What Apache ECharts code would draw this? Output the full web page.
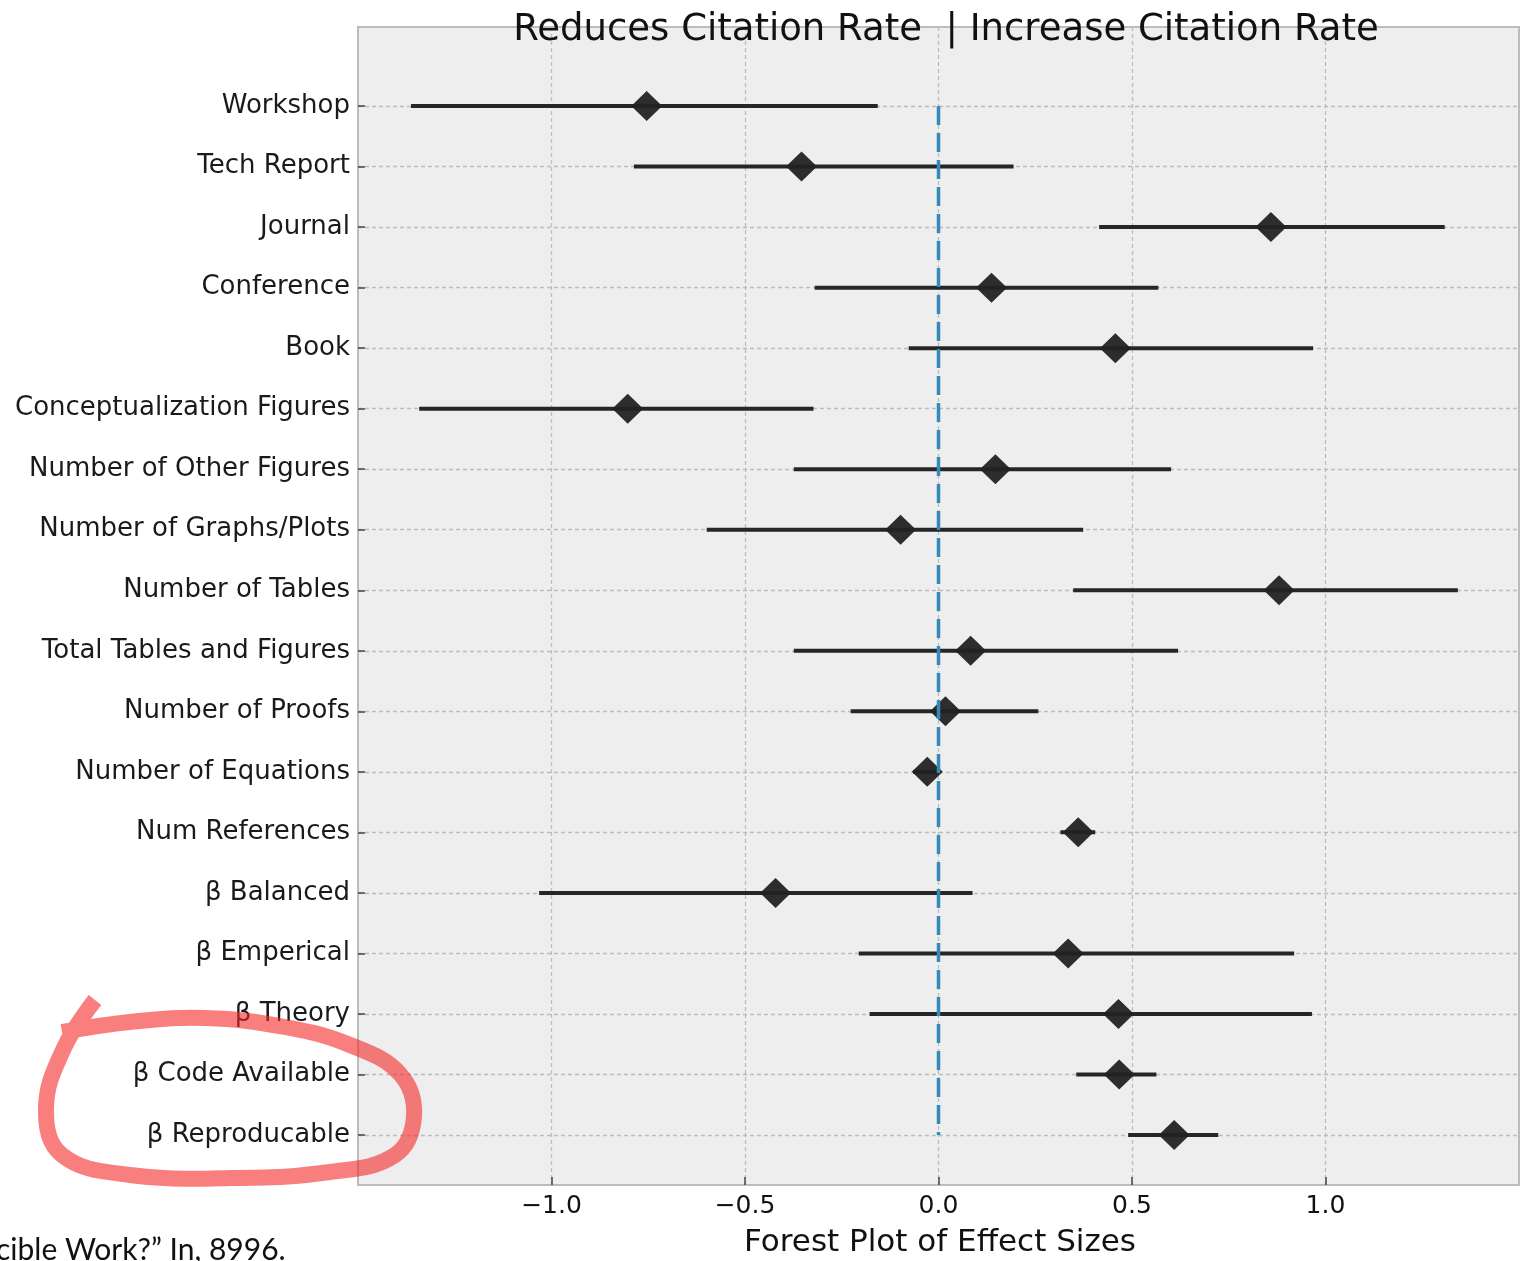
<!DOCTYPE html>
<html>
<head>
<meta charset="utf-8">
<script src="https://cdn.jsdelivr.net/npm/echarts@6/dist/echarts.min.js"></script>
<style>
  html, body { margin: 0; background: #fff; }
  #chart { width: 1531px; height: 1261px; }
</style>
</head>
<body>
<div id="chart"></div>
<script>
// factors, top to bottom
const categories = [
  'Workshop', 'Tech Report', 'Journal', 'Conference', 'Book',
  'Conceptualization Figures', 'Number of Other Figures', 'Number of Graphs/Plots',
  'Number of Tables', 'Total Tables and Figures', 'Number of Proofs',
  'Number of Equations', 'Num References', 'β Balanced', 'β Emperical',
  'β Theory', 'β Code Available', 'β Reproducable'
]
const estimates = [-0.754, -0.354, 0.859, 0.137, 0.457, -0.803, 0.147, -0.098, 0.880,
  0.083, 0.018, -0.029, 0.361, -0.421, 0.335, 0.465, 0.467, 0.609]
const lowerCI = [-1.363, -0.787, 0.415, -0.320, -0.077, -1.342, -0.374, -0.599, 0.348,
  -0.374, -0.227, -0.065, 0.315, -1.032, -0.206, -0.178, 0.356, 0.490]
const upperCI = [-0.157, 0.194, 1.308, 0.568, 0.968, -0.323, 0.601, 0.374, 1.342,
  0.619, 0.258, 0.005, 0.405, 0.088, 0.919, 0.965, 0.563, 0.723]
const xTicks = [-1.0, -0.5, 0.0, 0.5, 1.0]

const rowIdx = categories.map((_, i) => i)
const fmtTick = v => (v < 0 ? '−' : '') + Math.abs(v).toFixed(1)
const FONT = "'DejaVu Sans', Verdana, sans-serif"

const chart = echarts.init(document.getElementById('chart'))

const option = {
  animation: false,
  backgroundColor: '#fff',
  title: {
    text: 'Reduces Citation Rate  | Increase Citation Rate',
    left: 941,
    top: 7,
    textAlign: 'center',
    textStyle: { fontFamily: FONT, fontSize: 37, fontWeight: 'normal', color: '#111' }
  },
  grid: {
    left: 358, top: 27, width: 1161, height: 1158,
    show: true,
    backgroundColor: '#eeeeee',
    borderColor: '#bcbcbc',
    borderWidth: 2,
    outerBoundsMode: 'none'
  },
  xAxis: {
    type: 'value',
    position: 'bottom',
    min: -1.5,
    max: 1.5,
    interval: 0.5,
    axisLine: { show: false, onZero: false },
    axisTick: { inside: true, length: 8, lineStyle: { color: '#444', width: 1.5 }, customValues: xTicks },
    axisLabel: {
      customValues: xTicks,
      formatter: fmtTick,
      margin: 9,
      fontFamily: FONT, fontSize: 25, color: '#111'
    },
    splitLine: { show: true, lineStyle: { color: '#bdbdbd', width: 1.3, type: [4, 3] } }
  },
  yAxis: {
    type: 'value',
    position: 'left',
    inverse: true,
    min: -1.306,
    max: 17.826,
    axisLine: { show: false, onZero: false },
    axisTick: { inside: true, length: 7, lineStyle: { color: '#444', width: 1.5 }, customValues: rowIdx },
    axisLabel: {
      customValues: rowIdx,
      formatter: v => categories[Math.round(v)],
      margin: 8,
      fontFamily: FONT, fontSize: 26, color: '#1a1a1a'
    },
    splitLine: { show: true, lineStyle: { color: '#bdbdbd', width: 1.3, type: [4, 3] } }
  },
  series: [
    {
      // confidence intervals
      type: 'custom',
      z: 3,
      encode: { x: [0, 1], y: 2 },
      data: categories.map((c, i) => [lowerCI[i], upperCI[i], i]),
      renderItem: (params, api) => {
        const p1 = api.coord([api.value(0), api.value(2)])
        const p2 = api.coord([api.value(1), api.value(2)])
        return {
          type: 'line',
          shape: { x1: p1[0], y1: p1[1], x2: p2[0], y2: p2[1] },
          style: { stroke: '#262626', lineWidth: 4 }
        }
      }
    },
    {
      type: 'scatter',
      z: 4,
      symbol: 'diamond',
      symbolSize: [31, 30],
      itemStyle: { color: '#222', opacity: 0.95 },
      data: estimates.map((v, i) => [v, i])
    },
    {
      // zero reference line
      type: 'line',
      z: 5,
      symbol: 'none',
      lineStyle: { color: '#348ABD', width: 3.5, type: [19, 8] },
      data: [[0, 0], [0, categories.length - 1]]
    }
  ],
  graphic: [
    {
      // x axis title
      type: 'text',
      x: 940,
      y: 1243,
      z: 50,
      style: {
        text: 'Forest Plot of Effect Sizes',
        font: "31px 'DejaVu Sans', Verdana, sans-serif",
        fill: '#111',
        align: 'center',
        verticalAlign: 'middle'
      }
    },
    {
      type: 'polyline',
      z: 100,
      shape: {
        smooth: 0.4,
        points: [[95, 1000], [64, 1048], [46, 1108], [62, 1155], [130, 1175], [232, 1178],
          [330, 1172], [395, 1155], [414, 1116], [400, 1074], [350, 1045], [285, 1027],
          [205, 1018], [130, 1022], [62, 1032]]
      },
      style: { fill: null, stroke: 'rgba(245,40,40,0.6)', lineWidth: 16, lineJoin: 'round' }
    },
    {
      type: 'text',
      left: -4,
      top: 1235,
      z: 100,
      style: { text: 'cible Work?” In, 8996.', font: '30px Lato, "Open Sans", sans-serif', fill: '#111' }
    }
  ]
}

chart.setOption(option)
</script>
</body>
</html>
